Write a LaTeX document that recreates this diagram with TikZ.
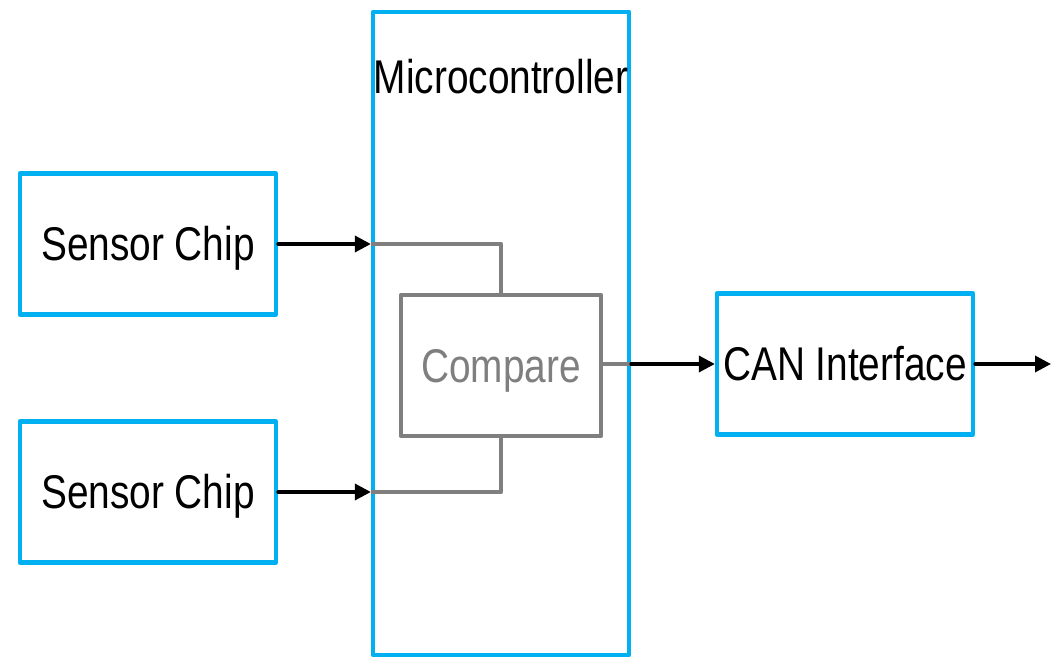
\documentclass[tikz,border=0pt]{standalone}
\usepackage{fontspec}
\setmainfont[FakeStretch=0.82]{Liberation Sans}
\usepackage{tikz}
\usetikzlibrary{arrows.meta,positioning}

\definecolor{boxblue}{HTML}{00B0F0}
\definecolor{cmpgray}{HTML}{7F7F7F}

\begin{document}
\begin{tikzpicture}[x=0.75pt,y=-0.75pt, line cap=round, line join=round,
    font=\fontsize{35.5}{40}\selectfont,
    blockbox/.style={draw=boxblue, line width=3.2pt, inner sep=0pt,
        text height=25.5pt, text depth=0pt,
        minimum width=192pt, minimum height=105.75pt},
    cmpbox/.style={draw=cmpgray, text=cmpgray, line width=3.2pt, inner sep=0pt,
        text height=25.5pt, text depth=0pt,
        minimum width=150pt, minimum height=105.75pt},
    sig/.style={line width=2.6pt, -{Triangle[length=12pt,width=12pt]}},
    graysig/.style={draw=cmpgray, line width=3.2pt, line cap=butt}]
    \useasboundingbox (0,0) rectangle (1051,659);

    % Blocks
    \node[blockbox, minimum height=482.25pt] (mcu) at (501,333.5) {};
    \node[anchor=base] (mcutitle) at (501,94) {Microcontroller};
    \node[blockbox] (sensA) at (148,244) {Sensor Chip};
    \node[blockbox] (sensB) at (148,492) {Sensor Chip};
    \node[cmpbox] (cmp) at (501,365.5) {Compare};
    \node[blockbox] (can) at (845,364) {CAN Interface};

    % Ports on the microcontroller edge
    \coordinate (inA) at (mcu.west |- sensA.east);
    \coordinate (inB) at (mcu.west |- sensB.east);
    \coordinate (outC) at (mcu.east |- can.west);
    \coordinate (bus) at (1051,364);

    % Internal wiring
    \draw[graysig] (inA) -| (cmp.north);
    \draw[graysig] (inB) -| (cmp.south);
    \draw[graysig] (cmp.east |- outC) -- (outC);

    % Signals
    \draw[sig] (sensA.east) -- (inA);
    \draw[sig] (sensB.east) -- (inB);
    \draw[sig] (outC) -- (can.west);
    \draw[sig] (can.east) -- (bus);
\end{tikzpicture}
\end{document}
